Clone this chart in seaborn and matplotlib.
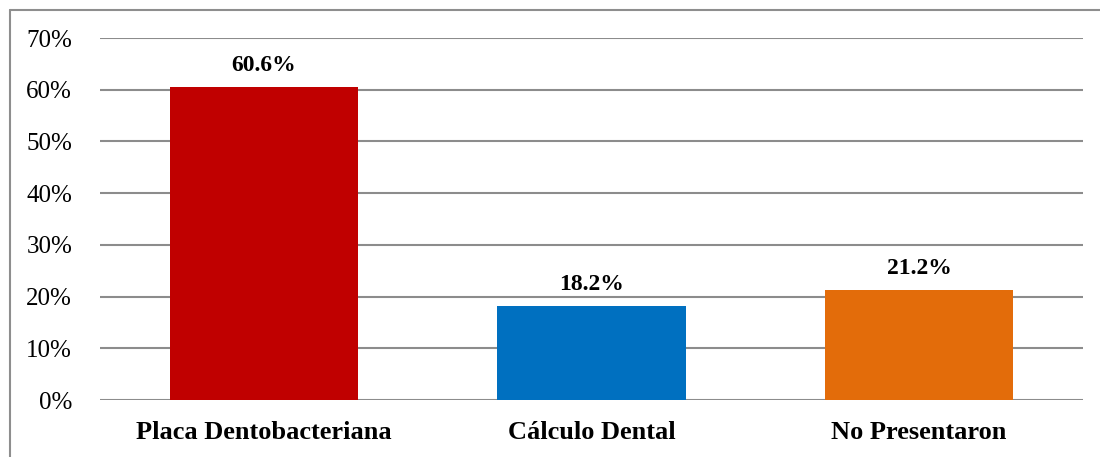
import matplotlib
matplotlib.use("Agg")
import matplotlib.pyplot as plt
import seaborn as sns
import pandas as pd
from matplotlib.lines import Line2D
from matplotlib.ticker import PercentFormatter

# Data
categories = ["Placa Dentobacteriana", "Cálculo Dental", "No Presentaron"]
values = [60.6, 18.2, 21.2]
colors = ["#C00000", "#0070C0", "#E36C0A"]
y_ticks = [0, 10, 20, 30, 40, 50, 60, 70]

df = pd.DataFrame({"categoria": categories, "porcentaje": values})

sns.set_theme(style="white")
plt.rcParams["font.family"] = ["Liberation Serif", "DejaVu Serif"]

fig = plt.figure(figsize=(11, 4.57), dpi=100)
ax = fig.add_axes([0.0909, 0.1247, 0.8936, 0.7921])

sns.barplot(data=df, x="categoria", y="porcentaje", hue="categoria",
            palette=colors, width=0.574, saturation=1, legend=False,
            linewidth=0, ax=ax, zorder=3)

ax.set_ylim(0, 70)
ax.set_yticks(y_ticks)
ax.yaxis.set_major_formatter(PercentFormatter(decimals=0))
ax.set_xlim(-0.5, len(categories) - 0.5)
ax.grid(axis="y", color="#8C8C8C", linewidth=1.5, zorder=0)
ax.grid(axis="x", visible=False)
for s in ax.spines.values():
    s.set_visible(False)
ax.tick_params(axis="y", length=0, pad=20, labelsize=18, labelcolor="#000000")
ax.tick_params(axis="x", length=0, pad=15, labelsize=19, labelcolor="#000000")
for lbl in ax.get_xticklabels():
    lbl.set_fontweight("bold")
ax.set_xlabel("")
ax.set_ylabel("")

for i, v in enumerate(values):
    ax.annotate(f"{v:.1f}%", xy=(i, v), xytext=(0, 8), textcoords="offset points",
                ha="center", va="bottom", fontsize=17, fontweight="bold", color="#000000")

# Chart frame: left and top edges only
fx = 9.5 / 1100
fy = 1 - 9.5 / 457
fig.add_artist(Line2D([fx, fx], [0, fy], transform=fig.transFigure,
                      color="#8E8E8E", linewidth=1.5))
fig.add_artist(Line2D([fx, 1], [fy, fy], transform=fig.transFigure,
                      color="#8E8E8E", linewidth=1.5))

fig.savefig("out.png", dpi=100)
